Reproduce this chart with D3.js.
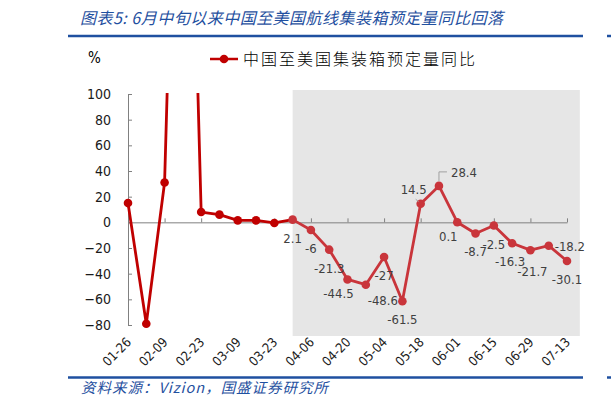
<!DOCTYPE html>
<html>
<head>
<meta charset="utf-8">
<script src="https://cdn.jsdelivr.net/npm/d3@7/dist/d3.min.js"></script>
<style>
  html, body { margin: 0; padding: 0; background: #fff; }
  svg { display: block; }
  .num { font-family: "DejaVu Sans Condensed", "DejaVu Sans", sans-serif; font-stretch: condensed; }
</style>
</head>
<body>
<svg id="chart" width="611" height="410"></svg>
<script>
// ---------------- data ----------------
const dates = ['01-26','02-02','02-09','02-16','02-23','03-02','03-09','03-16','03-23','03-30',
               '04-06','04-13','04-20','04-27','05-04','05-11','05-18','05-25','06-01','06-08',
               '06-15','06-22','06-29','07-06','07-13'];
const values = [15, -79, 31, 530, 8, 6, 1.5, 1.5, -0.5, 2.1,
                -6, -21.3, -44.5, -48.6, -27, -61.5, 14.5, 28.4, 0.1, -8.7,
                -2.5, -16.3, -21.7, -18.2, -30.1];
const tickDates = ['01-26','02-09','02-23','03-09','03-23','04-06','04-20','05-04','05-18','06-01','06-15','06-29','07-13'];
const yTicks = [-80, -60, -40, -20, 0, 20, 40, 60, 80, 100];
const seriesName = '中国至美国集装箱预定量同比';
const titleText = '图表5:  6月中旬以来中国至美国航线集装箱预定量同比回落';
const sourceText = '资料来源：Vizion，国盛证券研究所';
const highlightStart = '03-30';
// label placement hints (null = no label)
const labelPlace = [null,null,null,null,null,null,null,null,null,'below',
                    'below','below','belowLeft','belowRight','below','below','leaderLeft','leaderRight','belowLeft','below',
                    'below','belowL2','belowLow','right','below'];

// ---------------- layout ----------------
const svg = d3.select('#chart');
const W = 611, H = 410;
const plot = { left: 128, right: 567, top: 94, bottom: 325 };

const x = d3.scalePoint().domain(dates).range([plot.left, plot.right]);
const y = d3.scaleLinear().domain([-80, 100]).range([plot.bottom, plot.top]);

const blue = '#1f50a0';
const redDark = '#c00000';
const redLight = '#c9353b';

// title
svg.append('text').attr('x', 80).attr('y', 24)
  .attr('font-family', '"Noto Sans CJK SC", sans-serif').attr('font-style', 'italic')
  .attr('font-size', 16).attr('fill', blue)
  .attr('textLength', 423).attr('lengthAdjust', 'spacing')
  .text(titleText);
svg.append('line').attr('x1', 68).attr('x2', 583).attr('y1', 36).attr('y2', 36)
  .attr('stroke', blue).attr('stroke-width', 2.5);
svg.append('line').attr('x1', 607).attr('x2', 611).attr('y1', 36).attr('y2', 36)
  .attr('stroke', blue).attr('stroke-width', 2.5);

// bottom rule + source
svg.append('line').attr('x1', 68).attr('x2', 583).attr('y1', 377.5).attr('y2', 377.5)
  .attr('stroke', blue).attr('stroke-width', 2.5);
svg.append('line').attr('x1', 607).attr('x2', 611).attr('y1', 377.5).attr('y2', 377.5)
  .attr('stroke', blue).attr('stroke-width', 2.5);
svg.append('text').attr('x', 81).attr('y', 393)
  .attr('font-family', '"Noto Sans CJK SC", sans-serif').attr('font-style', 'italic')
  .attr('font-size', 14.5).attr('fill', blue)
  .attr('textLength', 247).attr('lengthAdjust', 'spacing')
  .text(sourceText);

// highlight band
const step = x.step();
svg.append('rect')
  .attr('x', x(highlightStart))
  .attr('y', plot.top - 4)
  .attr('width', x(dates[dates.length - 1]) + step * 0.7 - x(highlightStart))
  .attr('height', plot.bottom - plot.top + 15)
  .attr('fill', '#e6e6e6');

// "%" unit
svg.append('text').attr('class', 'num').attr('x', 88).attr('y', 63)
  .attr('font-size', 15).attr('fill', '#000').text('%');

// legend
const lg = svg.append('g');
lg.append('line').attr('x1', 210).attr('x2', 238).attr('y1', 59).attr('y2', 59)
  .attr('stroke', redDark).attr('stroke-width', 2.5);
lg.append('circle').attr('cx', 224).attr('cy', 59).attr('r', 4.3).attr('fill', redDark);
lg.append('text').attr('x', 243).attr('y', 65)
  .attr('font-family', '"Noto Sans CJK SC", sans-serif').attr('font-weight', 300)
  .attr('font-size', 16).attr('fill', '#000')
  .attr('textLength', 232).attr('lengthAdjust', 'spacing')
  .text(seriesName);

// y axis
const yAxis = d3.axisLeft(y).tickValues(yTicks).tickSize(-4).tickSizeOuter(0).tickPadding(17);
const gy = svg.append('g').attr('transform', `translate(${plot.left},0)`).call(yAxis);
gy.select('.domain').attr('stroke', '#808080');
gy.selectAll('.tick line').attr('stroke', '#808080');
gy.selectAll('.tick text').attr('class', 'num').attr('font-size', 14).attr('fill', '#1a1a1a');

// x axis (at zero)
const xAxis = d3.axisBottom(x).tickValues(tickDates).tickSize(-4).tickSizeOuter(0).tickFormat('');
const gx = svg.append('g').attr('transform', `translate(0,${y(0)})`).call(xAxis);
gx.select('.domain').attr('stroke', '#808080');
gx.selectAll('.tick line').attr('stroke', '#808080');

// x labels (bottom, rotated)
const gxl = svg.append('g').attr('transform', `translate(0,${plot.bottom + 18})`)
  .call(d3.axisBottom(x).tickValues(tickDates).tickSize(0).tickPadding(0));
gxl.select('.domain').remove();
gxl.selectAll('.tick text')
  .attr('class', 'num').attr('font-size', 13).attr('fill', '#1a1a1a')
  .attr('text-anchor', 'end').attr('dy', 0).attr('y', 0).attr('x', 0)
  .attr('transform', 'translate(3.5,0) rotate(-45)');

// line with colour switch at highlight start
const defs = svg.append('defs');
const grad = defs.append('linearGradient').attr('id', 'lineGrad')
  .attr('gradientUnits', 'userSpaceOnUse')
  .attr('x1', 0).attr('x2', W).attr('y1', 0).attr('y2', 0);
const f = x(highlightStart) / W;
grad.append('stop').attr('offset', f).attr('stop-color', redDark);
grad.append('stop').attr('offset', f).attr('stop-color', redLight);
defs.append('clipPath').attr('id', 'clipTop').append('rect')
  .attr('x', 0).attr('y', plot.top - 1).attr('width', W).attr('height', H);

const pts = dates.map((d, i) => ({ d, v: values[i], i }));
const line = d3.line().x(p => x(p.d)).y(p => y(p.v));
const gl = svg.append('g').attr('clip-path', 'url(#clipTop)');
gl.append('path').datum(pts).attr('d', line)
  .attr('fill', 'none').attr('stroke', 'url(#lineGrad)').attr('stroke-width', 2.8)
  .attr('stroke-linejoin', 'round');
gl.selectAll('circle').data(pts.filter(p => p.v <= 100)).join('circle')
  .attr('cx', p => x(p.d)).attr('cy', p => y(p.v)).attr('r', 4.3)
  .attr('fill', p => x(p.d) >= x(highlightStart) ? redLight : redDark);

// data labels
const offsets = {
  below:      { dx: 0,   dy: 23, anchor: 'middle' },
  belowL2:    { dx: -2,  dy: 23, anchor: 'middle' },
  belowLow:   { dx: 2,   dy: 26, anchor: 'middle' },
  belowLeft:  { dx: -9,  dy: 19, anchor: 'middle' },
  belowRight: { dx: 17,  dy: 20, anchor: 'middle' },
  right:      { dx: 6,   dy: 5,  anchor: 'start' },
  leaderLeft: { dx: -7,  dy: -10, anchor: 'middle' },
  leaderRight:{ dx: 12,  dy: -9, anchor: 'start' }
};
const gLab = svg.append('g');
pts.forEach((p, i) => {
  const place = labelPlace[i];
  if (!place) return;
  const o = offsets[place];
  const px = x(p.d), py = y(p.v);
  gLab.append('text').attr('class', 'num')
    .attr('x', px + o.dx).attr('y', py + o.dy)
    .attr('text-anchor', o.anchor).attr('font-size', 13).attr('fill', '#404040')
    .text(String(p.v));
  if (place === 'leaderLeft') {
    gLab.append('line').attr('x1', px - 5).attr('y1', py - 4.5).attr('x2', px - 2).attr('y2', py - 2)
      .attr('stroke', '#a0a0a0').attr('stroke-width', 1);
  }
  if (place === 'leaderRight') {
    gLab.append('path').attr('d', `M${px},${py - 5}V${py - 14}H${px + 8}`)
      .attr('fill', 'none').attr('stroke', '#a0a0a0').attr('stroke-width', 1);
  }
});
</script>
</body>
</html>
